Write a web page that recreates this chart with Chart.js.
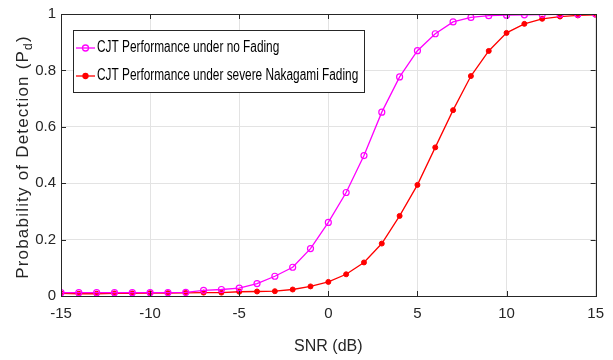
<!DOCTYPE html>
<html lang="en">
<head>
    <meta charset="UTF-8">
    <title>CJT Probability of Detection</title>
    <script src="https://cdn.jsdelivr.net/npm/chart.js"></script>
    <style>
        html, body {
            margin: 0;
            padding: 0;
            background: #fff;
        }
        .chart-container {
            width: 613px;
            height: 360px;
            position: relative;
        }
    </style>
</head>
<body>
    <div class="chart-container">
        <canvas id="pdChart"></canvas>
    </div>

    <script>
        // SNR en dB (eje x)
        const snr = [-15, -14, -13, -12, -11, -10, -9, -8, -7, -6, -5, -4, -3, -2, -1, 0,
                     1, 2, 3, 4, 5, 6, 7, 8, 9, 10, 11, 12, 13, 14, 15];

        // Pd sin desvanecimiento
        const pdNoFading = [0.012, 0.012, 0.012, 0.012, 0.012, 0.012, 0.012, 0.013, 0.02, 0.023, 0.028,
                            0.044, 0.07, 0.102, 0.168, 0.261, 0.367, 0.498, 0.652, 0.777, 0.870,
                            0.930, 0.972, 0.988, 0.994, 0.996, 0.997, 0.998, 0.999, 0.999, 1.0];

        // Pd con Nakagami severo
        const pdNakagami = [0.009, 0.008, 0.008, 0.009, 0.009, 0.01, 0.01, 0.011, 0.012, 0.012, 0.015,
                            0.016, 0.017, 0.023, 0.034, 0.050, 0.077, 0.119, 0.186, 0.284, 0.394,
                            0.527, 0.659, 0.780, 0.869, 0.933, 0.965, 0.983, 0.991, 0.995, 0.997];

        const seriesNames = ['CJT Performance under no Fading', 'CJT Performance under severe Nakagami Fading'];
        const xTicks = [-15, -10, -5, 0, 5, 10, 15];
        const yTicks = [0, 0.2, 0.4, 0.6, 0.8, 1];

        const tickFont = '"Liberation Sans", Arial, sans-serif';

        // marco, marcas interiores, titulo y leyenda estilo MATLAB
        const matlabBox = {
            id: 'matlabBox',
            afterDraw(chart) {
                const ctx = chart.ctx;
                const a = chart.chartArea;
                const xs = chart.scales.x;
                const ys = chart.scales.y;
                ctx.save();
                ctx.strokeStyle = '#262626';
                ctx.lineWidth = 1;
                ctx.beginPath();
                xTicks.forEach(v => {
                    const px = Math.round(xs.getPixelForValue(v)) + 0.5;
                    ctx.moveTo(px, a.bottom); ctx.lineTo(px, a.bottom - 5);
                    ctx.moveTo(px, a.top); ctx.lineTo(px, a.top + 5);
                });
                yTicks.forEach(v => {
                    const py = Math.round(ys.getPixelForValue(v)) + 0.5;
                    ctx.moveTo(a.left, py); ctx.lineTo(a.left + 5, py);
                    ctx.moveTo(a.right, py); ctx.lineTo(a.right - 5, py);
                });
                ctx.stroke();
                ctx.strokeRect(Math.round(a.left) + 0.5, Math.round(a.top) + 0.5,
                               Math.round(a.right - a.left), Math.round(a.bottom - a.top));

                // titulo del eje y con subindice
                ctx.fillStyle = '#262626';
                ctx.translate(23, (a.top + a.bottom) / 2 + 2);
                ctx.rotate(-Math.PI / 2);
                ctx.textBaseline = 'middle';
                ctx.letterSpacing = '1.2px';
                const big = '17px "Liberation Sans", Arial, sans-serif';
                const small = '12px "Liberation Sans", Arial, sans-serif';
                const main = 'Probability of Detection (P';
                ctx.font = big;
                const w1 = ctx.measureText(main).width;
                const w3 = ctx.measureText(')').width;
                ctx.font = small;
                const w2 = ctx.measureText('d').width;
                let x0 = -(w1 + w2 + w3) / 2;
                ctx.textAlign = 'left';
                ctx.font = big;
                ctx.fillText(main, x0, 0);
                ctx.font = small;
                ctx.fillText('d', x0 + w1, 6);
                ctx.font = big;
                ctx.fillText(')', x0 + w1 + w2, 0);
                ctx.restore();

                // leyenda dentro del grafico
                ctx.save();
                const lx = a.left + 12, ly = a.top + 16, lw = 291, lh = 62;
                ctx.fillStyle = '#fff';
                ctx.fillRect(lx, ly, lw, lh);
                ctx.strokeStyle = '#262626';
                ctx.strokeRect(lx + 0.5, ly + 0.5, lw, lh);
                ctx.textBaseline = 'middle';
                ctx.textAlign = 'left';
                chart.data.datasets.forEach((ds, i) => {
                    const yy = ly + 18 + i * 28;
                    ctx.strokeStyle = ds.borderColor;
                    ctx.lineWidth = 1.3;
                    ctx.beginPath();
                    ctx.moveTo(lx + 3, yy); ctx.lineTo(lx + 22, yy);
                    ctx.stroke();
                    ctx.beginPath();
                    ctx.arc(lx + 12.5, yy, ds.pointRadius, 0, Math.PI * 2);
                    if (i === 1) { ctx.fillStyle = ds.pointBackgroundColor; ctx.fill(); }
                    ctx.stroke();
                    // texto estrecho como en MATLAB
                    ctx.save();
                    ctx.fillStyle = '#000';
                    ctx.font = '16px "Liberation Sans", Arial, sans-serif';
                    ctx.translate(lx + 24, yy);
                    ctx.scale(0.74, 1);
                    ctx.fillText(ds.label, 0, 0);
                    ctx.restore();
                });
                ctx.restore();
            }
        };

        const ctx = document.getElementById('pdChart').getContext('2d');
        new Chart(ctx, {
            type: 'line',
            data: {
                datasets: [{
                    label: seriesNames[0],
                    data: snr.map((x, i) => ({ x: x, y: pdNoFading[i] })),
                    borderColor: '#ff00ff',
                    backgroundColor: '#ff00ff',
                    pointBackgroundColor: 'rgba(255,255,255,0)',
                    pointBorderColor: '#ff00ff',
                    pointRadius: 3,
                    pointBorderWidth: 1.2,
                    borderWidth: 1.3,
                    tension: 0
                }, {
                    label: seriesNames[1],
                    data: snr.map((x, i) => ({ x: x, y: pdNakagami[i] })),
                    borderColor: '#ff0000',
                    backgroundColor: '#ff0000',
                    pointBackgroundColor: '#ff0000',
                    pointBorderColor: '#ff0000',
                    pointRadius: 2.5,
                    pointBorderWidth: 1,
                    borderWidth: 1.3,
                    tension: 0
                }]
            },
            options: {
                responsive: true,
                maintainAspectRatio: false,
                animation: false,
                events: [],
                layout: { padding: { top: 10, right: 17, left: 0, bottom: 0 } },
                plugins: {
                    legend: { display: false },
                    tooltip: { enabled: false }
                },
                scales: {
                    x: {
                        type: 'linear',
                        min: -15,
                        max: 15,
                        afterBuildTicks: s => { s.ticks = xTicks.map(v => ({ value: v })); },
                        afterFit: s => { s.height = 64; },
                        grid: { color: '#e3e3e3', drawTicks: false },
                        border: { display: false },
                        ticks: {
                            color: '#262626',
                            padding: 9,
                            font: { family: tickFont, size: 15 }
                        },
                        title: {
                            display: true,
                            text: 'SNR (dB)',
                            color: '#262626',
                            padding: { top: 4 },
                            font: { family: tickFont, size: 16 }
                        }
                    },
                    y: {
                        type: 'linear',
                        min: 0,
                        max: 1,
                        afterBuildTicks: s => { s.ticks = yTicks.map(v => ({ value: v })); },
                        afterFit: s => { s.width = 61; },
                        grid: { color: '#e3e3e3', drawTicks: false },
                        border: { display: false },
                        ticks: {
                            color: '#262626',
                            padding: 5,
                            font: { family: tickFont, size: 15 },
                            callback: v => String(Math.round(v * 10) / 10)
                        }
                    }
                }
            },
            plugins: [matlabBox]
        });
    </script>
</body>
</html>
